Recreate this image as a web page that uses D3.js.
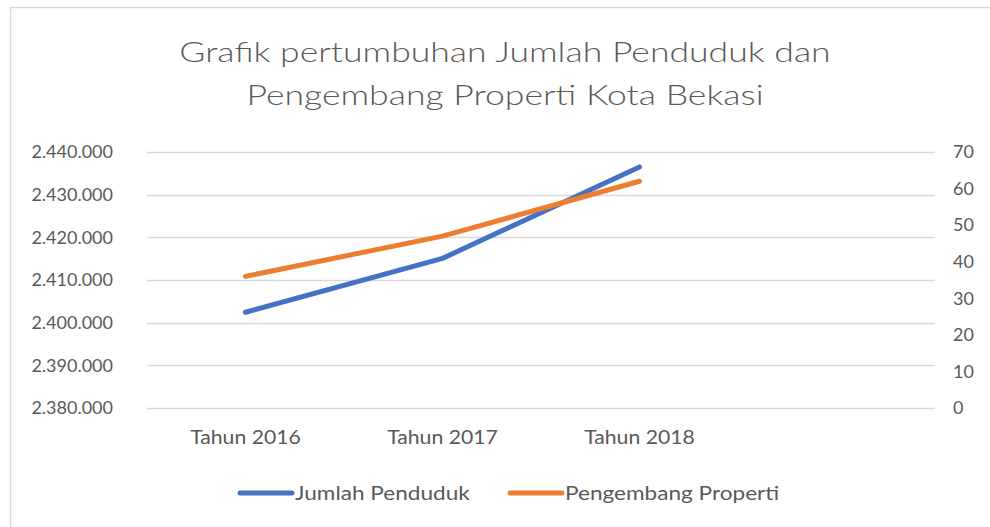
<!DOCTYPE html>
<html>
<head>
<meta charset="utf-8">
<script src="https://cdn.jsdelivr.net/npm/d3@7"></script>
<style>
  body { margin: 0; background: #fff; }
  svg text { font-family: Lato, "Open Sans", sans-serif; fill: #595959; }
</style>
</head>
<body>
<div id="chart"></div>
<script>
// data
const categories = ["Tahun 2016", "Tahun 2017", "Tahun 2018", ""];
const jumlahPenduduk = [2402440, 2415070, 2436500];
const pengembangProperti = [36, 47, 62];
const leftTicks = [2380000, 2390000, 2400000, 2410000, 2420000, 2430000, 2440000];
const rightTicks = [0, 10, 20, 30, 40, 50, 60, 70];
const titleLines = ["Grafik pertumbuhan Jumlah Penduduk dan", "Pengembang Properti Kota Bekasi"];
const seriesNames = ["Jumlah Penduduk", "Pengembang Properti"];

const W = 990, H = 527;
const margin = { top: 152, right: 55, bottom: 119, left: 147 };
const width = W - margin.left - margin.right,
      height = H - margin.top - margin.bottom;

const svg = d3.select("#chart").append("svg")
    .attr("width", W)
    .attr("height", H);

// chart border (cut off on right / bottom)
svg.append("path")
    .attr("d", `M10.5,${H} L10.5,7.5 L${W},7.5`)
    .attr("fill", "none")
    .attr("stroke", "#d9d9d9")
    .attr("stroke-width", 1.5);

// title - text is a bit wider than Lato, so stretch it
svg.append("g")
    .attr("transform", "translate(505,0) scale(1.27,1)")
    .selectAll("text")
    .data(titleLines)
    .join("text")
    .attr("x", 0)
    .attr("y", (d, i) => 62 + i * 43)
    .attr("text-anchor", "middle")
    .attr("font-size", 28)
    .attr("font-weight", 300)
    .text(d => d);

const g = svg.append("g")
    .attr("transform", `translate(${margin.left},${margin.top})`);

const x = d3.scaleBand().domain(categories).range([0, width]);
const yL = d3.scaleLinear().domain([2380000, 2440000]).range([height, 0]);
const yR = d3.scaleLinear().domain([0, 70]).range([height, 0]);

const fmt = v => d3.format(",")(v).replace(/,/g, ".");

// gridlines
g.append("g")
    .selectAll("line")
    .data(leftTicks)
    .join("line")
    .attr("x1", 0)
    .attr("x2", width)
    .attr("y1", d => Math.round(yL(d)) + 0.5)
    .attr("y2", d => Math.round(yL(d)) + 0.5)
    .attr("stroke", "#d9d9d9")
    .attr("stroke-width", 1.5);

// left axis
const axL = g.append("g")
    .call(d3.axisLeft(yL).tickValues(leftTicks).tickFormat(fmt).tickSize(0).tickPadding(34));
axL.select(".domain").remove();
axL.selectAll("text").attr("font-size", 18).style("font-family", null);

// right axis
const axR = g.append("g")
    .attr("transform", `translate(${width},0)`)
    .call(d3.axisRight(yR).tickValues(rightTicks).tickSize(0).tickPadding(18));
axR.select(".domain").remove();
axR.selectAll("text").attr("font-size", 18).attr("text-anchor", "start").style("font-family", null);

// x axis labels
const axX = g.append("g")
    .attr("transform", `translate(0,${height})`)
    .call(d3.axisBottom(x).tickSize(0).tickPadding(22));
axX.select(".domain").remove();
axX.selectAll("text").attr("font-size", 20).style("font-family", null)
    .attr("transform", "scale(1.06,1)");

// lines
const cx = i => x(categories[i]) + x.bandwidth() / 2;

g.append("path")
    .datum(jumlahPenduduk)
    .attr("fill", "none")
    .attr("stroke", "#4472c4")
    .attr("stroke-width", 5)
    .attr("stroke-linecap", "round")
    .attr("stroke-linejoin", "round")
    .attr("d", d3.line().x((d, i) => cx(i)).y(d => yL(d)));

g.append("path")
    .datum(pengembangProperti)
    .attr("fill", "none")
    .attr("stroke", "#ed7d31")
    .attr("stroke-width", 5)
    .attr("stroke-linecap", "round")
    .attr("stroke-linejoin", "round")
    .attr("d", d3.line().x((d, i) => cx(i)).y(d => yR(d)));

// legend
const legend = [
    { name: seriesNames[0], color: "#4472c4", x: 240 },
    { name: seriesNames[1], color: "#ed7d31", x: 510 }
];
const lg = svg.append("g").selectAll("g")
    .data(legend)
    .join("g")
    .attr("transform", d => `translate(${d.x},493)`);
lg.append("line")
    .attr("x1", 0).attr("x2", 52)
    .attr("stroke", d => d.color)
    .attr("stroke-width", 5)
    .attr("stroke-linecap", "round");
lg.append("text")
    .attr("x", 55 / 1.13)
    .attr("dy", "0.35em")
    .attr("font-size", 20)
    .attr("transform", "scale(1.13,1)")
    .text(d => d.name);
</script>
</body>
</html>
